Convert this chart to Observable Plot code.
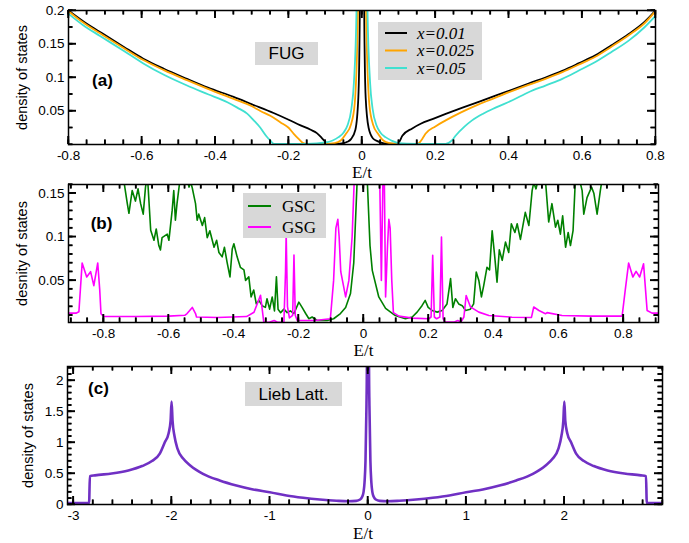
<!DOCTYPE html>
<html>
<head>
<meta charset="utf-8">
<script src="https://cdn.jsdelivr.net/npm/d3@7"></script>
<script src="https://cdn.jsdelivr.net/npm/@observablehq/plot@0.6"></script>
<style>
  body { margin: 0; background: #fff; }
  #wrap { position: relative; width: 689px; height: 543px; overflow: hidden; }
</style>
</head>
<body>
<div id="wrap"></div>
<script>
// ---------- Data ----------
// Panel (a): FUG, density of states vs E/t, pairs [E/t, DOS]
const fugNames = ["x=0.01", "x=0.025", "x=0.05"];
const fugColors = ["#000000", "#ffa500", "#40e0d0"];
const fugX001 = [[-0.8,0.2],[-0.76,0.184],[-0.714,0.168],[-0.65,0.146],[-0.596,0.128],[-0.54,0.113],[-0.477,0.098],[-0.42,0.085],[-0.35,0.071],[-0.3,0.06],[-0.241,0.047],[-0.2,0.037],[-0.169,0.029],[-0.14,0.022],[-0.123,0.017],[-0.11,0.01],[-0.1,0.004],[-0.095,0.0008],[-0.07,0.0008],[-0.05,0.002],[-0.04,0.004],[-0.03,0.008],[-0.018,0.022],[-0.01,0.07],[-0.006,0.2],[-0.003,0.8],[0,2.0],[0.003,0.8],[0.006,0.2],[0.01,0.07],[0.018,0.025],[0.03,0.009],[0.042,0.005],[0.06,0.0015],[0.09,0.0008],[0.1,0.003],[0.11,0.013],[0.137,0.024],[0.16,0.031],[0.192,0.038],[0.23,0.046],[0.274,0.055],[0.32,0.064],[0.364,0.073],[0.41,0.082],[0.454,0.091],[0.5,0.1],[0.546,0.11],[0.59,0.121],[0.636,0.133],[0.68,0.148],[0.727,0.165],[0.77,0.183],[0.8,0.2]];
const fugX0025 = [[-0.8,0.199],[-0.76,0.182],[-0.714,0.166],[-0.65,0.144],[-0.596,0.126],[-0.54,0.111],[-0.477,0.096],[-0.42,0.083],[-0.35,0.068],[-0.3,0.057],[-0.277,0.05],[-0.25,0.043],[-0.222,0.033],[-0.2,0.025],[-0.186,0.016],[-0.172,0.008],[-0.16,0.002],[-0.152,0.0008],[-0.1,0.0008],[-0.075,0.002],[-0.058,0.006],[-0.045,0.015],[-0.03,0.03],[-0.02,0.06],[-0.011,0.2],[-0.005,0.9],[0,2.5],[0.005,0.9],[0.011,0.2],[0.02,0.06],[0.03,0.03],[0.045,0.015],[0.058,0.006],[0.075,0.002],[0.1,0.0008],[0.15,0.0008],[0.155,0.002],[0.165,0.009],[0.173,0.016],[0.2,0.027],[0.228,0.036],[0.27,0.048],[0.318,0.06],[0.364,0.07],[0.41,0.08],[0.454,0.089],[0.5,0.098],[0.546,0.108],[0.59,0.119],[0.636,0.131],[0.68,0.146],[0.727,0.163],[0.77,0.181],[0.8,0.199]];
const fugX005 = [[-0.8,0.195],[-0.76,0.178],[-0.714,0.162],[-0.65,0.14],[-0.596,0.121],[-0.54,0.104],[-0.477,0.088],[-0.42,0.075],[-0.367,0.063],[-0.34,0.055],[-0.313,0.046],[-0.295,0.036],[-0.277,0.025],[-0.26,0.012],[-0.25,0.006],[-0.24,0.001],[-0.2,0.0008],[-0.15,0.001],[-0.1,0.003],[-0.08,0.006],[-0.064,0.011],[-0.05,0.018],[-0.04,0.028],[-0.029,0.053],[-0.022,0.093],[-0.015,0.2],[-0.007,0.9],[0,2.5],[0.007,0.9],[0.015,0.2],[0.022,0.093],[0.029,0.053],[0.04,0.028],[0.05,0.018],[0.064,0.011],[0.08,0.006],[0.1,0.002],[0.15,0.001],[0.2,0.0008],[0.228,0.001],[0.245,0.006],[0.255,0.013],[0.28,0.027],[0.3,0.036],[0.33,0.046],[0.364,0.055],[0.41,0.066],[0.454,0.078],[0.5,0.088],[0.546,0.098],[0.59,0.11],[0.636,0.123],[0.68,0.138],[0.727,0.155],[0.77,0.175],[0.8,0.192]];

// Panel (b): GSC and GSG
const gsNames = ["GSC", "GSG"];
const gsColors = ["#008000", "#ff00ff"];
const gsc = [[-0.908,0.22],[-0.76,0.2],[-0.738,0.165],[-0.727,0.138],[-0.722,0.127],[-0.712,0.153],[-0.702,0.141],[-0.694,0.155],[-0.686,0.138],[-0.678,0.126],[-0.671,0.157],[-0.665,0.17],[-0.655,0.1075],[-0.645,0.096],[-0.638,0.109],[-0.63,0.09],[-0.625,0.085],[-0.62,0.099],[-0.604,0.103],[-0.599,0.096],[-0.589,0.13],[-0.584,0.153],[-0.579,0.119],[-0.574,0.138],[-0.566,0.162],[-0.555,0.175],[-0.545,0.17],[-0.537,0.157],[-0.532,0.163],[-0.527,0.156],[-0.522,0.147],[-0.517,0.138],[-0.512,0.119],[-0.507,0.126],[-0.496,0.113],[-0.489,0.122],[-0.481,0.099],[-0.473,0.107],[-0.46,0.088],[-0.452,0.096],[-0.445,0.082],[-0.435,0.077],[-0.428,0.088],[-0.42,0.071],[-0.411,0.054],[-0.404,0.086],[-0.399,0.092],[-0.389,0.077],[-0.379,0.065],[-0.368,0.062],[-0.363,0.05],[-0.353,0.054],[-0.346,0.031],[-0.338,0.039],[-0.33,0.023],[-0.322,0.027],[-0.312,0.021],[-0.302,0.019],[-0.297,0.029],[-0.289,0.017],[-0.281,0.031],[-0.274,0.015],[-0.268,0.054],[-0.263,0.017],[-0.255,0.013],[-0.245,0.017],[-0.235,0.013],[-0.225,0.015],[-0.214,0.012],[-0.199,0.025],[-0.189,0.019],[-0.178,0.012],[-0.168,0.006],[-0.158,0.008],[-0.143,0.004],[-0.112,0.004],[-0.092,0.006],[-0.071,0.012],[-0.055,0.019],[-0.04,0.035],[-0.03,0.07],[-0.02,0.16],[-0.01,0.6],[0,2],[0.005,0.8],[0.011,0.17],[0.02,0.09],[0.027,0.0615],[0.047,0.031],[0.068,0.018],[0.098,0.0097],[0.129,0.006],[0.15,0.008],[0.165,0.0136],[0.18,0.021],[0.19,0.027],[0.199,0.019],[0.211,0.0155],[0.227,0.0136],[0.242,0.0155],[0.257,0.023],[0.268,0.052],[0.275,0.019],[0.283,0.029],[0.293,0.023],[0.304,0.021],[0.314,0.0155],[0.329,0.017],[0.339,0.023],[0.347,0.0596],[0.355,0.05],[0.363,0.031],[0.37,0.044],[0.38,0.065],[0.388,0.062],[0.396,0.107],[0.404,0.077],[0.411,0.048],[0.418,0.085],[0.427,0.073],[0.437,0.094],[0.447,0.082],[0.455,0.115],[0.466,0.105],[0.473,0.115],[0.483,0.097],[0.498,0.128],[0.509,0.113],[0.519,0.153],[0.524,0.162],[0.531,0.155],[0.54,0.17],[0.56,0.165],[0.57,0.117],[0.58,0.138],[0.591,0.111],[0.598,0.119],[0.606,0.103],[0.613,0.124],[0.622,0.088],[0.63,0.105],[0.637,0.09],[0.645,0.107],[0.652,0.165],[0.662,0.17],[0.673,0.153],[0.678,0.126],[0.688,0.145],[0.702,0.157],[0.709,0.15],[0.719,0.126],[0.729,0.153],[0.734,0.165],[0.76,0.2],[0.908,0.22]];
const gsg = [[-0.908,0.0124],[-0.885,0.0124],[-0.876,0.014],[-0.866,0.07],[-0.852,0.054],[-0.84,0.06],[-0.83,0.044],[-0.818,0.07],[-0.812,0.04],[-0.808,0.0117],[-0.8,0.0086],[-0.7,0.0086],[-0.6,0.009],[-0.55,0.01],[-0.543,0.012],[-0.527,0.019],[-0.517,0.012],[-0.514,0.008],[-0.45,0.0075],[-0.36,0.0085],[-0.337,0.0135],[-0.317,0.033],[-0.307,0.0023],[-0.29,0.002],[-0.275,0.004],[-0.265,0.002],[-0.245,0.002],[-0.24,0.06],[-0.238,0.104],[-0.234,0.02],[-0.228,0.007],[-0.218,0.01],[-0.214,0.079],[-0.21,0.01],[-0.204,0.004],[-0.15,0.004],[-0.102,0.006],[-0.092,0.05],[-0.085,0.11],[-0.079,0.12],[-0.075,0.1],[-0.07,0.06],[-0.055,0.031],[-0.045,0.05],[-0.035,0.1],[-0.028,0.17],[-0.015,0.5],[0,1],[0.015,0.5],[0.04,0.2],[0.05,0.165],[0.055,0.05],[0.06,0.17],[0.064,0.17],[0.068,0.031],[0.074,0.09],[0.078,0.12],[0.082,0.11],[0.087,0.05],[0.092,0.013],[0.109,0.009],[0.15,0.0067],[0.201,0.006],[0.208,0.008],[0.213,0.0787],[0.218,0.008],[0.225,0.006],[0.235,0.008],[0.24,0.0998],[0.245,0.006],[0.25,0.0023],[0.28,0.0023],[0.29,0.004],[0.3,0.0023],[0.309,0.008],[0.316,0.0327],[0.329,0.0197],[0.355,0.0136],[0.386,0.0097],[0.457,0.0078],[0.517,0.0075],[0.524,0.0195],[0.54,0.0155],[0.56,0.0117],[0.565,0.013],[0.611,0.0097],[0.7,0.009],[0.796,0.009],[0.806,0.04],[0.816,0.0699],[0.829,0.0539],[0.839,0.0604],[0.85,0.0539],[0.862,0.069],[0.873,0.0155],[0.888,0.0124],[0.908,0.0124]];

// Panel (c): Lieb lattice
const liebColor = "#7030c4";
const lieb = [[-3.06,0.025],[-2.84,0.025],[-2.832,0.455],[-2.78,0.47],[-2.61,0.5],[-2.44,0.55],[-2.3,0.62],[-2.2,0.7],[-2.12,0.82],[-2.07,1.0],[-2.03,1.15],[-2.01,1.35],[-2.0,1.66],[-1.99,1.35],[-1.97,1.1],[-1.94,0.9],[-1.88,0.737],[-1.81,0.63],[-1.68,0.495],[-1.51,0.387],[-1.34,0.306],[-1.17,0.242],[-1.0,0.199],[-0.83,0.145],[-0.66,0.108],[-0.49,0.08],[-0.32,0.06],[-0.2,0.052],[-0.12,0.058],[-0.08,0.08],[-0.06,0.12],[-0.045,0.2],[-0.035,0.35],[-0.025,0.7],[-0.015,1.6],[-0.011,2.2],[-0.005,8],[0,30],[0.005,8],[0.011,2.2],[0.015,1.6],[0.025,0.7],[0.035,0.35],[0.045,0.2],[0.06,0.12],[0.08,0.08],[0.12,0.058],[0.2,0.052],[0.32,0.06],[0.49,0.08],[0.66,0.108],[0.83,0.145],[1.0,0.199],[1.17,0.242],[1.34,0.306],[1.51,0.387],[1.68,0.495],[1.81,0.63],[1.88,0.737],[1.94,0.9],[1.97,1.1],[1.99,1.35],[2.0,1.66],[2.01,1.35],[2.03,1.15],[2.07,1.0],[2.12,0.82],[2.2,0.7],[2.3,0.62],[2.44,0.55],[2.61,0.5],[2.78,0.47],[2.832,0.455],[2.84,0.025],[3.0,0.025]];

// Tick values
const ticksXa = [-0.8, -0.6, -0.4, -0.2, 0, 0.2, 0.4, 0.6, 0.8];
const ticksYa = [0.05, 0.1, 0.15, 0.2];
const ticksXb = [-0.8, -0.6, -0.4, -0.2, 0, 0.2, 0.4, 0.6, 0.8];
const ticksYb = [0.05, 0.1, 0.15];
const ticksXc = [-3, -2, -1, 0, 1, 2];
const ticksYc = [0, 0.5, 1, 1.5, 2];

// ---------- Drawing ----------
const SANS = "'Liberation Sans', Arial, Helvetica, sans-serif";
const SERIF = "'Liberation Serif', 'Times New Roman', Times, serif";
const fmt = d => String(d);
const TICKFONT = 13.5;

function minorTicks(domain, step) {
  const lo = Math.ceil(domain[0] / step - 1e-9), hi = Math.floor(domain[1] / step + 1e-9);
  return d3.range(lo, hi + 1).map(i => +(i * step).toFixed(6));
}

// Inward-pointing ticks on all four sides of the frame, drawn as rules.
function inwardTickMarks(o, frameW, frameH) {
  const [x0, x1] = o.xDomain, [y0, y1] = o.yDomain;
  const kx = (x1 - x0) / frameW, ky = (y1 - y0) / frameH;
  const xMin = minorTicks(o.xDomain, o.xStep), yMin = minorTicks(o.yDomain, o.yStep);
  const st = {stroke: "black", strokeWidth: 1.4};
  const out = [];
  for (const [vals, len] of [[xMin, 4.5], [o.xMaj, 8]]) {
    out.push(Plot.ruleX(vals, {x: d => d, y1: y0, y2: y0 + len * ky, ...st}));
    out.push(Plot.ruleX(vals, {x: d => d, y1: y1, y2: y1 - len * ky, ...st}));
  }
  for (const [vals, len] of [[yMin, 4.5], [o.yMaj, 8]]) {
    out.push(Plot.ruleY(vals, {y: d => d, x1: x0, x2: x0 + len * kx, ...st}));
    out.push(Plot.ruleY(vals, {y: d => d, x1: x1, x2: x1 - len * kx, ...st}));
  }
  return out;
}

// Same ticks again, placed through the rendered plot's own scales (after it is in the page).
function overlayTicks(svg, o) {
  const sx = svg.scale("x"), sy = svg.scale("y");
  if (!sx || !sy || !sx.range || !sy.range) return;
  const xl = sx.range[0], xr = sx.range[1], yb = sy.range[0], ytop = sy.range[1];
  const g = d3.select(svg).append("g").attr("stroke", "black").attr("stroke-width", 1.4);
  const seg = (a, b, c, d) => g.append("line").attr("x1", a).attr("y1", b).attr("x2", c).attr("y2", d);
  const doX = (vals, len) => vals.forEach(v => { const X = sx.apply(v); seg(X, yb, X, yb - len); seg(X, ytop, X, ytop + len); });
  const doY = (vals, len) => vals.forEach(v => { const Y = sy.apply(v); seg(xl, Y, xl + len, Y); seg(xr, Y, xr - len, Y); });
  doX(minorTicks(o.xDomain, o.xStep), 4.5); doX(o.xMaj, 8);
  doY(minorTicks(o.yDomain, o.yStep), 4.5); doY(o.yMaj, 8);
}

function panel(o) {
  const frameW = 689 - o.ml - o.mr, frameH = o.height - o.mt - o.mb;
  const marks = [];
  for (const s of o.series) {
    marks.push(Plot.line(s.data, {x: d => d[0], y: d => d[1], stroke: s.color, strokeWidth: s.width,
      curve: s.curve || "linear", clip: true}));
  }
  marks.push(...inwardTickMarks(o, frameW, frameH));
  marks.push(Plot.axisX(o.xMaj, {anchor: "bottom", tickSize: 0, tickPadding: 6, tickFormat: fmt, label: null, fontSize: TICKFONT}));
  marks.push(Plot.axisY(o.yMaj, {anchor: "left", tickSize: 0, tickPadding: 4, tickFormat: fmt, label: null, fontSize: TICKFONT}));
  marks.push(Plot.frame({stroke: "black", strokeWidth: 1.5}));
  marks.push(Plot.text([o.ylabel], {text: d => d, frameAnchor: "left", rotate: -90, dx: o.ylabelDx,
    fontSize: 14.5, fontFamily: SANS, textAnchor: "middle", lineAnchor: "middle"}));
  marks.push(Plot.text(["E/t"], {text: d => d, frameAnchor: "bottom", dx: o.xlabelDx || 0, dy: o.xlabelDy,
    fontSize: 17, fontFamily: SERIF, textAnchor: "middle", lineAnchor: "middle"}));
  marks.push(Plot.text([o.tag], {text: d => d, frameAnchor: "top-left", dx: o.tagDx, dy: o.tagDy,
    fontSize: 17, fontWeight: "bold", fontFamily: SANS, textAnchor: "middle", lineAnchor: "middle"}));
  const svg = Plot.plot({
    width: 689, height: o.height,
    marginTop: o.mt, marginBottom: o.mb, marginLeft: o.ml, marginRight: o.mr,
    x: {domain: o.xDomain}, y: {domain: o.yDomain},
    style: {fontFamily: SANS, fontSize: "13px", color: "black", background: "white", overflow: "visible"},
    marks
  });
  svg.style.position = "absolute";
  svg.style.left = "0px";
  svg.style.top = o.top + "px";
  document.getElementById("wrap").appendChild(svg);
  try { overlayTicks(svg, o); } catch (e) { /* rules above already draw the ticks */ }
  return d3.select(svg);
}

function grayBox(g, x, y, w, h) {
  g.append("rect").attr("x", x).attr("y", y).attr("width", w).attr("height", h).attr("fill", "#d8d8d8");
}

// Panel (a)
const ga = panel({
  top: 0, height: 180, mt: 10, mb: 36, ml: 68, mr: 34,
  xDomain: [-0.8, 0.8], yDomain: [0, 0.2], xMaj: ticksXa, yMaj: ticksYa, xStep: 0.05, yStep: 0.025,
  series: [
    {data: fugX001, color: fugColors[0], width: 1.8, curve: "monotone-x"},
    {data: fugX0025, color: fugColors[1], width: 1.8, curve: "monotone-x"},
    {data: fugX005, color: fugColors[2], width: 1.8, curve: "monotone-x"}
  ],
  ylabel: "density of states", ylabelDx: -46, xlabelDy: 28, tag: "(a)", tagDx: 34, tagDy: 70
});
grayBox(ga, 255, 42, 63, 23);
ga.append("text").attr("x", 286.5).attr("y", 53.5).attr("dy", "0.35em").attr("text-anchor", "middle")
  .attr("font-family", SANS).attr("font-size", 17).text("FUG");
grayBox(ga, 378, 22, 104, 58);
fugNames.forEach((name, i) => {
  const y = 33 + i * 17.5;
  ga.append("line").attr("x1", 385).attr("x2", 407).attr("y1", y).attr("y2", y)
    .attr("stroke", fugColors[i]).attr("stroke-width", 2);
  ga.append("text").attr("x", 417).attr("y", y).attr("dy", "0.33em").attr("text-anchor", "start")
    .attr("font-family", SERIF).attr("font-style", "italic").attr("font-size", 17).text(name);
});

// Panel (b)
const gb = panel({
  top: 180, height: 180, mt: 4, mb: 38, ml: 68, mr: 31,
  xDomain: [-0.908, 0.908], yDomain: [0.0017, 0.16], xMaj: ticksXb, yMaj: ticksYb, xStep: 0.05, yStep: 0.01,
  series: [
    {data: gsc, color: gsColors[0], width: 1.6},
    {data: gsg, color: gsColors[1], width: 1.6}
  ],
  ylabel: "desnity of states", ylabelDx: -46, xlabelDy: 28, tag: "(b)", tagDx: 33, tagDy: 39
});
grayBox(gb, 243, 13, 83, 45);
gsNames.forEach((name, i) => {
  const y = 26 + i * 21;
  gb.append("line").attr("x1", 248).attr("x2", 271).attr("y1", y).attr("y2", y)
    .attr("stroke", gsColors[i]).attr("stroke-width", 2);
  gb.append("text").attr("x", 282).attr("y", y).attr("dy", "0.35em").attr("text-anchor", "start")
    .attr("font-family", SERIF).attr("font-size", 17).text(name);
});

// Panel (c)
const gc = panel({
  top: 360, height: 183, mt: 6, mb: 39, ml: 67, mr: 27,
  xDomain: [-3.06, 3.0], yDomain: [0, 2.225], xMaj: ticksXc, yMaj: ticksYc, xStep: 0.2, yStep: 0.1,
  series: [{data: lieb, color: liebColor, width: 2.6, curve: "monotone-x"}],
  ylabel: "density of states", ylabelDx: -39, xlabelDy: 29, xlabelDx: -2, tag: "(c)", tagDx: 31, tagDy: 22
});
grayBox(gc, 245, 22, 97, 24);
gc.append("text").attr("x", 293.5).attr("y", 34).attr("dy", "0.35em").attr("text-anchor", "middle")
  .attr("font-family", SANS).attr("font-size", 17).text("Lieb Latt.");
</script>
</body>
</html>
